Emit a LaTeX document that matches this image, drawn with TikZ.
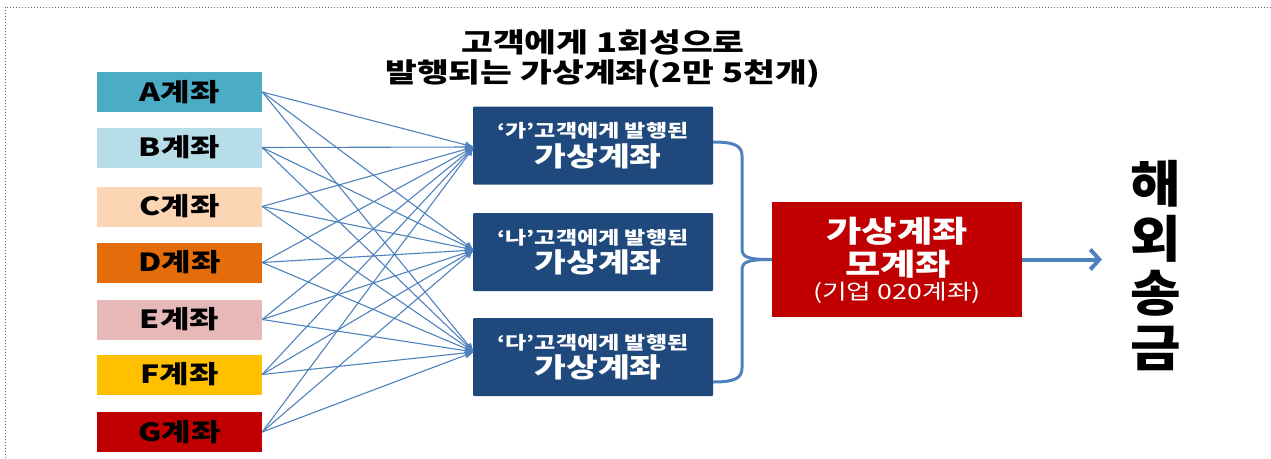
\documentclass[tikz,border=0pt]{standalone}
\usepackage{fontspec}
\newfontfamily\kr[FakeStretch=1.28]{Noto Sans CJK KR}
\newfontfamily\krv[FakeStretch=1.1]{Noto Sans CJK KR}
\usetikzlibrary{arrows.meta}
\definecolor{cA}{HTML}{4BACC6}
\definecolor{cB}{HTML}{B7DEE8}
\definecolor{cC}{HTML}{FCD5B5}
\definecolor{cD}{HTML}{E46C0A}
\definecolor{cE}{HTML}{E6B9B8}
\definecolor{cF}{HTML}{FFC000}
\definecolor{cG}{HTML}{C00000}
\definecolor{navy}{HTML}{1F497D}
\definecolor{redbox}{HTML}{C00000}
\definecolor{linkblue}{HTML}{4F81BD}
\begin{document}
\begin{tikzpicture}[x=1pt,y=-1pt,
  acct/.style={rectangle, minimum width=165pt, minimum height=40pt, inner sep=0pt,
    font=\kr\bfseries\fontsize{25}{25}\selectfont, text=black},
  vbox/.style={rectangle, fill=navy, minimum width=240pt, minimum height=78pt,
    rounded corners=1pt, inner sep=0pt},
  smalltxt/.style={text=white, inner sep=0pt, font=\kr\bfseries\fontsize{18}{18}\selectfont},
  bigtxt/.style={text=white, inner sep=0pt, font=\kr\bfseries\fontsize{27}{27}\selectfont},
  redtxt/.style={text=white, inner sep=0pt, font=\kr\bfseries\fontsize{30}{30}\selectfont},
  conn/.style={draw=linkblue, line width=1.1pt, -{Latex[length=9pt,width=7pt]}},
  brace/.style={draw=linkblue, line width=3pt},
  ]
\useasboundingbox (0,0) rectangle (1271,458);
\draw[black!60, dotted, line width=1pt] (5,458) -- (5,7) -- (1271,7);

% title
\node[align=center, inner sep=0pt, font=\kr\bfseries\fontsize{27}{30}\selectfont] (title) at (603,59)
  {고객에게 1회성으로\\발행되는 가상계좌(2만 5천개)};

% source accounts
\node[acct, fill=cA] (A) at (179.5,92) {A계좌};
\node[acct, fill=cB] (B) at (179.5,147.5) {B계좌};
\node[acct, fill=cC] (C) at (179.5,206.5) {C계좌};
\node[acct, fill=cD] (D) at (179.5,262.5) {D계좌};
\node[acct, fill=cE] (E) at (179.5,319.5) {E계좌};
\node[acct, fill=cF] (F) at (179.5,374.5) {F계좌};
\node[acct, fill=cG] (G) at (179.5,432) {G계좌};

% virtual accounts
\node[vbox] (ga) at (593,145.5) {};
\node[smalltxt] (ga1) at (593,131) {‘가’고객에게 발행된};
\node[bigtxt] (ga2) at (598,156) {가상계좌};
\node[vbox] (na) at (593,252) {};
\node[smalltxt] (na1) at (593,237.5) {‘나’고객에게 발행된};
\node[bigtxt] (na2) at (598,262.5) {가상계좌};
\node[vbox] (da) at (593,357) {};
\node[smalltxt] (da1) at (593,342.5) {‘다’고객에게 발행된};
\node[bigtxt] (da2) at (598,367.5) {가상계좌};

\coordinate (ga-in) at (474,147);
\coordinate (na-in) at (474,250);
\coordinate (da-in) at (474,352);
\coordinate (ga-out) at (713,142);
\coordinate (da-out) at (713,382);

\foreach \s in {A,B,C,D,E,F,G}
  \foreach \t in {ga,na,da}
    \draw[conn] (\s.east) -- (\t-in);

% parent account
\node[rectangle, fill=redbox, minimum width=250pt, minimum height=115pt, inner sep=0pt] (red) at (897,259.5) {};
\node[redtxt] (red1) at (897,231.5) {가상계좌};
\node[redtxt] (red2) at (898,264.5) {모계좌};
\node[text=white, inner sep=0pt, font=\kr\fontsize{21}{21}\selectfont] (red3) at (897,292.5) {(기업 020계좌)};

% brace
\draw[brace] (ga-out) .. controls (735,142) and (742,146) .. (742,156) -- (742,248)
  .. controls (742,257) and (746,259.5) .. (red.west);
\draw[brace] (da-out) .. controls (735,382) and (742,378) .. (742,368) -- (742,271)
  .. controls (742,262) and (746,259.5) .. (red.west);

% remittance
\node[align=center, inner sep=0pt, font=\krv\bfseries\fontsize{50}{54.5}\selectfont] (hs) at (1156,265.5)
  {해\\외\\송\\금};
\coordinate (hs-in) at (1102,259.5);
\draw[draw=linkblue, line width=4pt, -{Straight Barb[length=9pt,width=20pt]}] (red.east) -- (hs-in);
\end{tikzpicture}
\end{document}
